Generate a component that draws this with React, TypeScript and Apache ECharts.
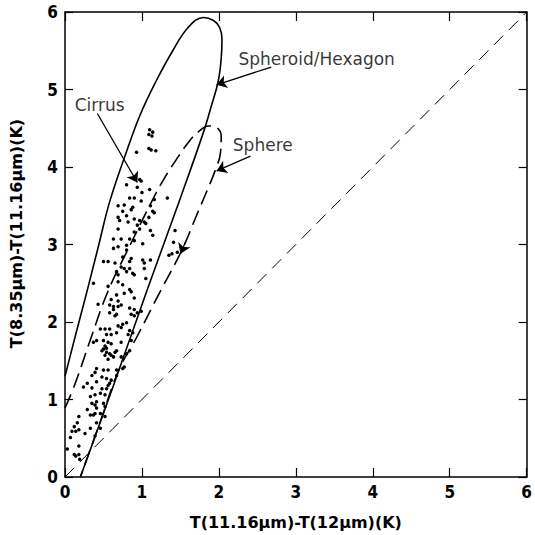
import React, { useEffect, useRef } from "react";
import * as echarts from "echarts";

const xRange = [0, 6];
const yRange = [0, 6];
const xTitle = "T(11.16μm)-T(12μm)(K)";
const yTitle = "T(8.35μm)-T(11.16μm)(K)";

// Spheroid/Hexagon model curve (solid loop)
const spheroidCurve = [
  [0, 1.3], [0.15, 1.88], [0.3, 2.45], [0.44, 3.0], [0.58, 3.55], [0.8, 4.2],
  [0.98, 4.68], [1.18, 5.1], [1.4, 5.5], [1.6, 5.8], [1.8, 5.93], [1.93, 5.89],
  [2.01, 5.8], [2.04, 5.65], [2.03, 5.4], [1.99, 5.1], [1.9, 4.78], [1.8, 4.45],
  [1.5, 3.6], [1.07, 2.42], [0.63, 1.18], [0.2, 0]
];

// Sphere model curve (dashed loop)
const sphereCurve = [
  [0, 0.89], [0.13, 1.2], [0.34, 1.8], [0.56, 2.4], [0.85, 3.0], [1.14, 3.58],
  [1.3, 3.87], [1.47, 4.13], [1.62, 4.34], [1.74, 4.46], [1.86, 4.53],
  [1.97, 4.51], [2.03, 4.4], [2.02, 4.18], [1.95, 3.95], [1.84, 3.68],
  [1.72, 3.4], [1.52, 2.93], [1.23, 2.38], [0.93, 1.8], [0.7, 1.38],
  [0.45, 0.69], [0.2, 0]
];

// 1:1 reference line
const oneToOne = [[0, 0], [6, 6]];

// Cirrus observations
const cirrusPoints = [
  [1.10, 4.48], [1.14, 4.45], [1.09, 4.42], [1.13, 4.40], [0.93, 4.19], [1.09, 4.24],
  [1.12, 4.22], [1.18, 4.21], [0.97, 3.84], [0.99, 3.82], [0.80, 3.77], [1.10, 3.71],
  [1.00, 3.67], [0.94, 3.74],
  [0.84, 3.60], [0.90, 3.60], [0.99, 3.56], [1.16, 3.58], [1.33, 3.60], [0.69, 3.50],
  [0.77, 3.51], [0.75, 3.43], [0.86, 3.45], [0.88, 3.48], [1.11, 3.50], [1.14, 3.43],
  [1.16, 3.41], [0.69, 3.35], [0.80, 3.37], [0.82, 3.29], [0.71, 3.31], [0.90, 3.33],
  [0.97, 3.31], [1.03, 3.29], [1.05, 3.27], [0.94, 3.25], [1.09, 3.35], [0.69, 3.20],
  [0.97, 3.20], [1.11, 3.18], [1.14, 3.12], [0.90, 3.16], [0.63, 3.07], [0.73, 3.07],
  [0.84, 3.07], [0.63, 2.95], [0.69, 2.97], [0.80, 2.99], [0.80, 2.93], [1.01, 3.01],
  [0.90, 3.05], [1.43, 3.18], [1.41, 3.03], [1.35, 2.86], [1.39, 2.88], [1.46, 2.90],
  [0.75, 2.84], [0.86, 2.82], [1.01, 2.80], [1.11, 2.80], [1.03, 2.76], [0.50, 2.78],
  [0.56, 2.78], [0.65, 2.76], [0.84, 2.78], [0.73, 2.71], [0.77, 2.69], [0.67, 2.65],
  [0.84, 2.69], [0.88, 2.63], [0.80, 2.65], [0.69, 2.61], [1.03, 2.69], [1.05, 2.56],
  [0.90, 2.61], [0.37, 2.50], [0.56, 2.46], [0.69, 2.52], [0.75, 2.48], [0.84, 2.42],
  [0.67, 2.35], [0.77, 2.37], [0.86, 2.39], [0.90, 2.31], [0.69, 2.27], [0.60, 2.29],
  [0.43, 2.23], [0.58, 2.22], [0.63, 2.20], [0.69, 2.20], [0.73, 2.22], [0.84, 2.18],
  [0.90, 2.16], [0.63, 2.16], [0.58, 2.12], [0.67, 2.10], [0.65, 2.08], [0.86, 2.10],
  [0.90, 2.08], [0.94, 2.12], [0.99, 2.14], [0.75, 1.97], [0.80, 1.99], [0.69, 1.95],
  [0.73, 1.93], [0.46, 1.91], [0.52, 1.91], [0.58, 1.91], [0.54, 1.84], [0.60, 1.84],
  [0.67, 1.86], [0.84, 1.89], [0.88, 1.86], [0.82, 1.84], [0.37, 1.74], [0.41, 1.76],
  [0.50, 1.76], [0.56, 1.74], [0.60, 1.72], [0.52, 1.69], [0.73, 1.74], [0.86, 1.76],
  [0.48, 1.63], [0.54, 1.61], [0.58, 1.59], [0.65, 1.61], [0.67, 1.63], [0.52, 1.57],
  [0.56, 1.52], [0.63, 1.55], [0.73, 1.55], [0.80, 1.59], [0.84, 1.63], [0.50, 1.65],
  [0.54, 1.66], [0.60, 1.57], [0.41, 1.40], [0.39, 1.35], [0.35, 1.31], [0.50, 1.38],
  [0.56, 1.38], [0.67, 1.38], [0.75, 1.40], [0.77, 1.42], [0.48, 1.29], [0.54, 1.27],
  [0.60, 1.25], [0.67, 1.31], [0.41, 1.23], [0.29, 1.21], [0.58, 1.21],
  [0.24, 1.16], [0.35, 1.15], [0.48, 1.14], [0.54, 1.14], [0.56, 1.18], [0.33, 1.04],
  [0.39, 1.06], [0.46, 1.08], [0.52, 1.06], [0.35, 0.95], [0.39, 0.93], [0.41, 0.97],
  [0.50, 0.95], [0.52, 0.91], [0.29, 0.87], [0.41, 0.89], [0.33, 0.80], [0.37, 0.80],
  [0.39, 0.82], [0.46, 0.82], [0.52, 0.78], [0.18, 0.78], [0.16, 0.70], [0.12, 0.65],
  [0.18, 0.61], [0.33, 0.63], [0.41, 0.70], [0.46, 0.63], [0.09, 0.59], [0.14, 0.59],
  [0.26, 0.56], [0.07, 0.51], [0.39, 0.53], [0.18, 0.40], [0.03, 0.36], [0.12, 0.29],
  [0.18, 0.29], [0.14, 0.27], [0.19, 0.23]
];

// Annotations (data coordinates)
const labelTexts = ["Cirrus", "Spheroid/Hexagon", "Sphere"];
const labelPositions = [[0.45, 4.8], [3.27, 5.39], [2.57, 4.28]];
const arrowStarts = [[0.42, 4.69], [2.68, 5.29], [2.41, 4.14], [1.57, 3.04]];
const arrowEnds = [[0.94, 3.8], [1.97, 5.06], [1.97, 3.95], [1.5, 2.88]];
const arrowCurves = [-0.3, 0.2, 0.15, 0];

const tickFont = "'DejaVu Sans Condensed', 'Liberation Sans Narrow', 'DejaVu Sans', sans-serif";
const textFont = "'DejaVu Sans', sans-serif";

export default function App() {
  const ref = useRef<HTMLDivElement>(null);
  useEffect(() => {
    if (!ref.current) return;
    const chart = echarts.init(ref.current, undefined, { renderer: "svg" });
    const axisLineStyle = { color: "#000", width: 1.5 };
    const baseX = {
      type: "value" as const,
      min: xRange[0],
      max: xRange[1],
      interval: 1,
      splitLine: { show: false },
      axisLine: { show: true, onZero: false, lineStyle: axisLineStyle },
      axisTick: { show: true, inside: true, length: 9, lineStyle: { color: "#000", width: 1.2 } },
    };
    const baseY = {
      type: "value" as const,
      min: yRange[0],
      max: yRange[1],
      interval: 1,
      splitLine: { show: false },
      axisLine: { show: true, onZero: false, lineStyle: axisLineStyle },
      axisTick: { show: true, inside: true, length: 8, lineStyle: { color: "#000", width: 1.2 } },
    };
    const option: any = {
      animation: false,
      backgroundColor: "#fff",
      grid: { left: 63, right: 2, top: 12, bottom: 52, containLabel: false },
      xAxis: [
        {
          ...baseX,
          position: "bottom",
          name: xTitle,
          nameLocation: "middle",
          nameGap: 37,
          nameTextStyle: { color: "#000", fontSize: 16, fontWeight: "bold", fontFamily: textFont },
          axisLabel: { color: "#000", fontSize: 17, fontWeight: "bold", fontFamily: tickFont, margin: 6 },
        },
        { ...baseX, position: "top", axisLabel: { show: false } },
      ],
      yAxis: [
        {
          ...baseY,
          position: "left",
          name: yTitle,
          nameLocation: "middle",
          nameGap: 41,
          nameTextStyle: {
            color: "#000",
            fontSize: 16,
            fontWeight: "bold",
            fontFamily: textFont,
            padding: [0, 0, 0, 22],
          },
          axisLabel: { color: "#000", fontSize: 17, fontWeight: "bold", fontFamily: tickFont, margin: 7 },
        },
        { ...baseY, position: "right", axisLabel: { show: false } },
      ],
      series: [
        {
          name: "1:1",
          type: "line",
          data: oneToOne,
          showSymbol: false,
          symbol: "none",
          lineStyle: { color: "#000", width: 1, type: [13, 8] },
          silent: true,
          z: 2,
        },
        {
          name: "Spheroid/Hexagon",
          type: "line",
          data: spheroidCurve,
          smooth: 0.4,
          showSymbol: false,
          symbol: "none",
          lineStyle: { color: "#000", width: 1.6 },
          silent: true,
          z: 3,
        },
        {
          name: "Sphere",
          type: "line",
          data: sphereCurve,
          smooth: 0.4,
          showSymbol: false,
          symbol: "none",
          lineStyle: { color: "#000", width: 1.6, type: [15, 7] },
          silent: true,
          z: 3,
        },
        {
          name: "Cirrus",
          type: "scatter",
          data: cirrusPoints,
          symbol: "circle",
          symbolSize: 3.5,
          itemStyle: { color: "#000", opacity: 1 },
          silent: true,
          z: 4,
        },
        {
          name: "annotations",
          type: "scatter",
          data: labelPositions.map((p, i) => ({ value: p, name: labelTexts[i] })),
          symbolSize: 0,
          silent: true,
          label: {
            show: true,
            position: "inside",
            formatter: (p: any) => p.name,
            color: "#000",
            fontSize: 17,
            fontFamily: textFont,
          },
          markLine: {
            silent: true,
            animation: false,
            symbol: ["none", "arrow"],
            symbolSize: 10,
            label: { show: false },
            emphasis: { disabled: true },
            data: arrowStarts.map((s, i) => [
              { coord: s, lineStyle: { curveness: arrowCurves[i] } },
              { coord: arrowEnds[i] },
            ]),
            lineStyle: { color: "#000", width: 1.3, type: "solid", opacity: 1 },
            itemStyle: { color: "#000" },
          },
          z: 5,
        },
      ],
    };
    chart.setOption(option);
    return () => chart.dispose();
  }, []);
  return (
    <div
      ref={ref}
      style={{ position: "fixed", left: 0, top: 0, width: 535, height: 535, background: "#fff" }}
    />
  );
}
